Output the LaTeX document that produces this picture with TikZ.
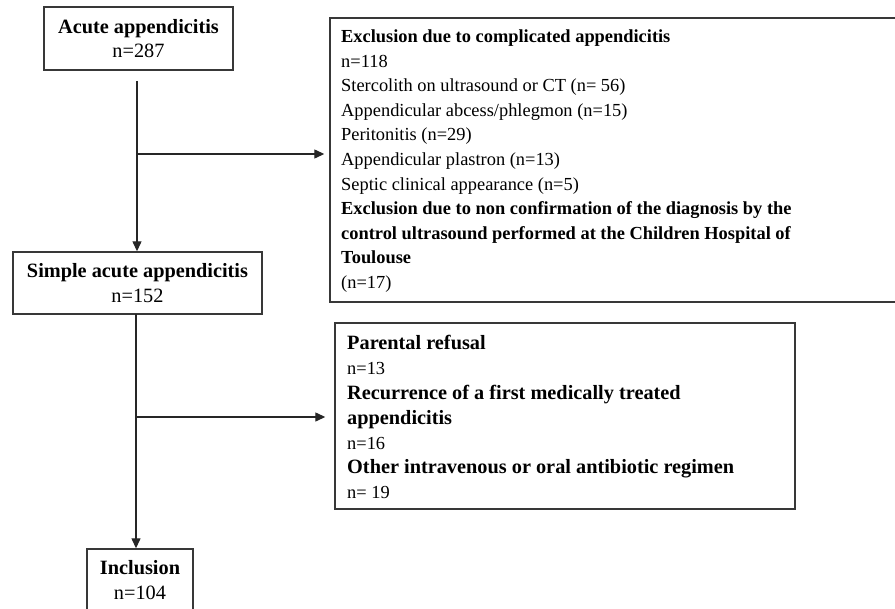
\documentclass[tikz,border=0pt]{standalone}
\usepackage{fontspec}
\setmainfont{Liberation Serif}
\usetikzlibrary{arrows.meta}
\newcommand\bigbf[1]{{\fontsize{20.3bp}{24.8bp}\selectfont\bfseries #1}}
\begin{document}
\begin{tikzpicture}[x=1bp,y=-1bp,
  box/.style={draw=black!78, line width=1.4bp, inner sep=0pt},
  ctxt/.style={font=\fontsize{20.3bp}{24.8bp}\selectfont, align=center},
  ltxt/.style={font=\fontsize{18.4bp}{24.6bp}\selectfont, align=left, inner sep=0pt, anchor=north west},
  ltxtb/.style={font=\fontsize{18.4bp}{24.8bp}\selectfont, align=left, inner sep=0pt, anchor=north west},
  conn/.style={draw=black!85, line width=1.3bp},
  arr/.style={conn, -{Triangle[length=10bp,width=9bp]}}]
\useasboundingbox (0,0) rectangle (895,609);
% boxes
\node[box, ctxt, minimum width=189bp, minimum height=63bp] (b1) at (138.5,38.5) {\textbf{Acute appendicitis}\\n=287};
\node[box, ctxt, minimum width=249bp, minimum height=62bp] (b2) at (137.5,283) {\textbf{Simple acute appendicitis}\\n=152};
\node[box, ctxt, minimum width=106bp, minimum height=62bp] (inc) at (140,580) {\textbf{Inclusion}\\n=104};
\node[box, minimum width=568bp, minimum height=284bp] (b3) at (614,160) {};
\node[box, minimum width=460bp, minimum height=186bp] (b4) at (565,416) {};
% texts of the right boxes
\node[ltxt] (t3) at (341,29.5) {\textbf{Exclusion due to complicated appendicitis}\\
n=118\\
Stercolith on ultrasound or CT (n= 56)\\
Appendicular abcess/phlegmon (n=15)\\
Peritonitis (n=29)\\
Appendicular plastron (n=13)\\
Septic clinical appearance (n=5)\\
\textbf{Exclusion due to non confirmation of the diagnosis by the}\\
\textbf{control ultrasound performed at the Children Hospital of}\\
\textbf{Toulouse}\\
(n=17)};
\node[ltxtb] (t4) at (347,335.5) {\bigbf{Parental refusal}\\
n=13\\
\bigbf{Recurrence of a first medically treated}\\
\bigbf{appendicitis}\\
n=16\\
\bigbf{Other intravenous or oral antibiotic regimen}\\
n= 19};
% connectors
\coordinate (s1) at (137,81);
\draw[arr] (s1) -- (s1 |- b2.north);
\coordinate (j1) at (137,154);
\draw[arr, shorten >=5bp] (j1) -- (j1 -| b3.west);
\coordinate (s2) at (136,314);
\draw[arr] (s2) -- (s2 |- inc.north);
\coordinate (j2) at (136,417);
\draw[arr, shorten >=9bp] (j2) -- (j2 -| b4.west);
\end{tikzpicture}
\end{document}
